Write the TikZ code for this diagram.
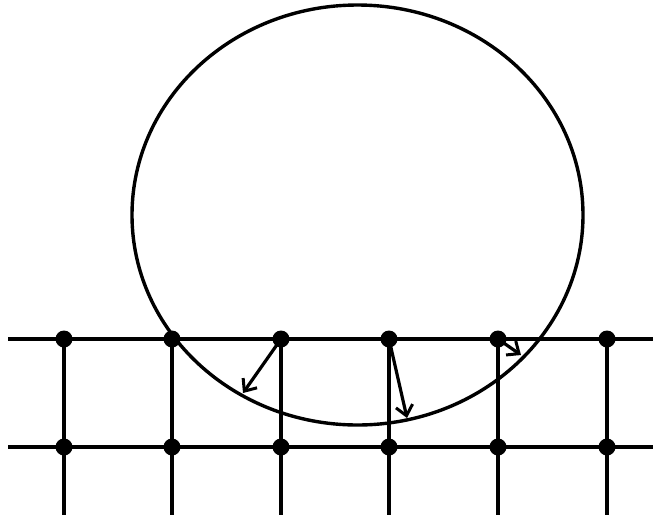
\documentclass[tikz,border=0pt]{standalone}
\usetikzlibrary{arrows.meta}
\begin{document}
\begin{tikzpicture}[x=1pt,y=-1pt,line width=3.4pt,
  dot/.style={circle,fill=black,inner sep=0pt,minimum size=17pt},
  vec/.style={-{Straight Barb[length=10pt,width=17pt,line width=3pt]},line width=3.2pt}]
\useasboundingbox (0,0) rectangle (653,520);
% ellipse
\draw (357.5,215) ellipse [x radius=225.5, y radius=210];
% grid coordinates
\coordinate (L1) at (8,339);
\coordinate (R1) at (653,339);
\coordinate (L2) at (8,447);
\coordinate (R2) at (653,447);
\foreach \i/\x in {1/64,2/172,3/281,4/389,5/498,6/607}{
  \coordinate (b\i) at (\x,515);
}
\draw (L1) -- (R1);
\draw (L2) -- (R2);
\foreach \i/\x in {1/64,2/172,3/281,4/389,5/498,6/607}{
  \node[dot] (t\i) at (\x,339) {};
  \node[dot] (m\i) at (\x,447) {};
  \draw (t\i.center) -- (b\i);
}
% arrow tips
\coordinate (a3) at (243,393);
\coordinate (a4) at (407,418);
\coordinate (a5) at (521,355);
\draw[vec] (t3.center) -- (a3);
\draw[vec] (t4.center) -- (a4);
\draw[vec] (t5.center) -- (a5);
\end{tikzpicture}
\end{document}
